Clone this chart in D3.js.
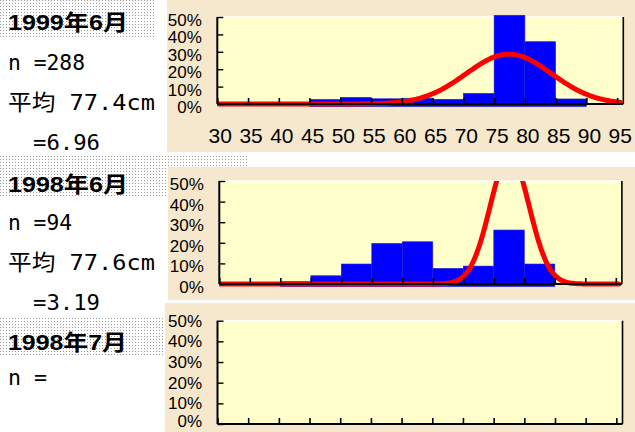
<!DOCTYPE html>
<html><head><meta charset="utf-8">
<script src="https://cdn.jsdelivr.net/npm/d3@7"></script>
<style>html,body{margin:0;padding:0;background:#fff;overflow:hidden}</style>
</head><body>
<svg id="c" width="635" height="432"></svg>
<script>
// ---- data ----
const titles = ["1999年6月", "1998年6月", "1998年7月"];
const nLabels = ["n =288", "n =94", "n ="];
const meanLabels = ["平均 77.4cm", "平均 77.6cm", null];
const sdLabels = ["=6.96", "=3.19", null];
const means = [77.4, 77.6, null];
const sds = [6.96, 3.19, null];
const binWidth = 5;
const binStarts1 = [45, 50, 55, 60, 65, 70, 75, 80, 85];
const pct1 = [2.6, 3.8, 3.0, 3.3, 2.7, 6.1, 51, 35.8, 2.9];
const binStarts2 = [40, 45, 50, 55, 60, 65, 70, 75, 80];
const pct2 = [1.1, 4.0, 9.7, 19.7, 20.5, 7.6, 8.7, 26.2, 9.7];
const xTickValues = [30, 35, 40, 45, 50, 55, 60, 65, 70, 75, 80, 85, 90, 95];
const yTickValues = [0, 10, 20, 30, 40, 50];

// ---- layout ----
const panels = [
  {bg: [167, 0, 468, 152], px: [217.3, 623.3], py: [104, 17], xLabels: true, ldy: 9,
   box: [0, 0, 155, 37], ty: [30, 70, 110, 150], tw: [120, 77, 147, 67],
   bins: binStarts1, vals: pct1},
  {bg: [168, 167, 467, 133], px: [219.3, 621.9], py: [284, 181], xLabels: false, ldy: 9,
   box: [0, 156, 247, 40], ty: [191.7, 230, 270, 310], tw: [120, 64, 147, 67],
   bins: binStarts2, vals: pct2},
  {bg: [165, 303, 470, 129], px: [217.5, 622.5], py: [424, 320.7], xLabels: false, ldy: 6,
   box: [0, 318, 163, 37], ty: [350, 385], tw: [119, 39],
   bins: [], vals: []}
];

const svg = d3.select("#c");
const defs = svg.append("defs");
const pat = defs.append("pattern").attr("id", "dots").attr("width", 3).attr("height", 3)
  .attr("patternUnits", "userSpaceOnUse");
pat.append("rect").attr("width", 3).attr("height", 3).attr("fill", "#fff");
pat.append("rect").attr("width", 1).attr("height", 1).attr("fill", "#9a9a9a");

svg.append("rect").attr("width", 635).attr("height", 432).attr("fill", "#fff");

// title boxes
panels.forEach(p => {
  svg.append("rect").attr("x", p.box[0]).attr("y", p.box[1]).attr("width", p.box[2]).attr("height", p.box[3])
    .attr("fill", "url(#dots)");
});

const monoFont = "'DejaVu Sans Mono', 'Noto Sans CJK JP', monospace";

panels.forEach((p, i) => {
  // beige background
  svg.append("rect").attr("x", p.bg[0]).attr("y", p.bg[1]).attr("width", p.bg[2]).attr("height", p.bg[3])
    .attr("fill", "#f6e8cc");

  const x = d3.scaleLinear().domain([30, 96]).range(p.px);
  const y = d3.scaleLinear().domain([0, 50]).range(p.py);
  const g = svg.append("g");

  const cid = "clip" + i;
  defs.append("clipPath").attr("id", cid).append("rect")
    .attr("x", p.px[0]).attr("y", p.py[1]).attr("width", p.px[1] - p.px[0]).attr("height", p.py[0] - p.py[1] + 6);

  // plot area
  g.append("rect").attr("x", p.px[0]).attr("y", p.py[1]).attr("width", p.px[1] - p.px[0])
    .attr("height", p.py[0] - p.py[1]).attr("fill", "#ffffcc");
  g.append("line").attr("x1", p.px[0]).attr("x2", p.px[1]).attr("y1", p.py[1]).attr("y2", p.py[1])
    .attr("stroke", "#fff").attr("stroke-width", 1.5);

  // bars
  g.selectAll("rect.bar").data(p.bins.map((b, k) => ({b, v: p.vals[k]}))).enter().append("rect")
    .attr("class", "bar")
    .attr("x", d => x(d.b)).attr("width", d => x(d.b + binWidth) - x(d.b))
    .attr("y", d => y(d.v)).attr("height", d => y(0) - y(d.v) + 2.5)
    .attr("fill", "#0000ff").attr("stroke", "#2020d0").attr("stroke-width", 0.6);

  // normal curve (from stated mean and SD, scaled to 5cm bins, in %)
  if (means[i] != null) {
    const m = means[i], s = sds[i];
    const xs = d3.range(30, 95.51, 0.25);
    const pts = xs.map(v => [v, binWidth * 100 * Math.exp(-0.5 * ((v - m) / s) ** 2) / (s * Math.sqrt(2 * Math.PI))]);
    g.append("path").datum(pts)
      .attr("d", d3.line().x(d => x(d[0])).y(d => y(d[1])).curve(d3.curveBasis))
      .attr("fill", "none").attr("stroke", "#ff0000").attr("stroke-width", 5)
      .attr("stroke-linecap", "round").attr("clip-path", `url(#${cid})`);
  }

  // axes
  const xAxis = d3.axisTop(x).tickValues(xTickValues).tickSize(6).tickFormat("");
  const xa = g.append("g").attr("transform", `translate(0,${p.py[0]})`).call(xAxis);
  xa.select(".domain").remove();
  xa.selectAll("line").attr("stroke", "#000").attr("stroke-width", 1.6);
  g.append("line").attr("x1", p.px[0]).attr("x2", p.px[1]).attr("y1", p.py[0]).attr("y2", p.py[0])
    .attr("stroke", "#000").attr("stroke-width", 2);

  const yAxis = d3.axisRight(y).tickValues(yTickValues).tickSize(6).tickFormat("");
  const ya = g.append("g").attr("transform", `translate(${p.px[0]},0)`).call(yAxis);
  ya.select(".domain").remove();
  ya.selectAll("line").attr("stroke", "#000").attr("stroke-width", 1.4);
  g.append("line").attr("x1", p.px[0]).attr("x2", p.px[0]).attr("y1", p.py[1]).attr("y2", p.py[0])
    .attr("stroke", "#000").attr("stroke-width", 2);
  g.append("line").attr("x1", p.px[1]).attr("x2", p.px[1]).attr("y1", p.py[1]).attr("y2", p.py[0])
    .attr("stroke", "#000").attr("stroke-width", 1.6);

  // y labels
  g.selectAll("text.yl").data(yTickValues).enter().append("text")
    .attr("x", p.px[0] - 15.5).attr("y", d => Math.min(y(d) + p.ldy, 427))
    .attr("text-anchor", "end").attr("font-family", "'Liberation Sans', Arial, sans-serif")
    .attr("font-size", 17).attr("fill", "#000").text(d => d + "%");

  // x labels
  if (p.xLabels) {
    g.selectAll("text.xl").data(xTickValues).enter().append("text")
      .attr("x", d => x(d) + 3).attr("y", p.py[0] + 39)
      .attr("text-anchor", "middle").attr("font-family", "'Liberation Sans', Arial, sans-serif")
      .attr("font-size", 21).attr("fill", "#000").text(d => d);
  }

  // left texts
  const lines = [titles[i], nLabels[i], meanLabels[i], sdLabels[i]];
  lines.forEach((t, k) => {
    if (t == null) return;
    const tx = svg.append("text")
      .attr("x", k === 3 ? 33 : 8).attr("y", p.ty[k])
      .attr("fill", "#000")
      .attr("textLength", p.tw[k]).attr("lengthAdjust", "spacingAndGlyphs")
      .text(t);
    if (k === 0) {
      tx.attr("font-family", "'Liberation Sans', 'Noto Sans CJK JP', sans-serif")
        .attr("font-weight", "bold").attr("font-size", 22);
    } else {
      tx.attr("font-family", monoFont).attr("font-size", 22);
    }
  });
});
</script>
</body></html>
